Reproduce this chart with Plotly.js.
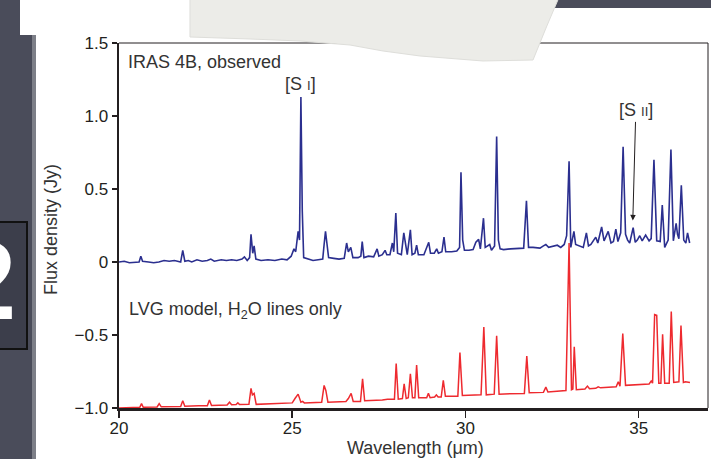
<!DOCTYPE html>
<html>
<head>
<meta charset="utf-8">
<script src="https://cdn.plot.ly/plotly-3.0.1.min.js"></script>
<style>html,body{margin:0;padding:0;background:#4a4c5a;} #chart{width:711px;height:459px;}</style>
</head>
<body>
<div id="chart"></div>
<script>
// ---- Data ----
const obsWavelength = [20.00,20.15,20.30,20.45,20.58,20.63,20.68,20.85,21.00,21.15,21.30,21.45,21.60,21.78,21.84,21.90,22.00,22.10,22.25,22.40,22.55,22.65,22.75,22.95,23.10,23.25,23.40,23.55,23.62,23.70,23.77,23.81,23.86,23.90,23.95,24.10,24.30,24.50,24.70,24.85,24.97,25.05,25.10,25.17,25.21,25.25,25.29,25.33,25.45,25.60,25.75,25.88,25.92,25.96,26.00,26.05,26.20,26.35,26.50,26.57,26.62,26.69,26.75,26.90,26.98,27.02,27.07,27.20,27.35,27.45,27.50,27.60,27.68,27.73,27.82,27.89,27.93,27.99,28.04,28.15,28.22,28.26,28.32,28.41,28.46,28.54,28.59,28.64,28.80,28.94,28.99,29.10,29.17,29.22,29.32,29.38,29.43,29.60,29.75,29.83,29.87,29.92,29.97,30.10,30.22,30.30,30.38,30.43,30.52,30.57,30.70,30.75,30.84,30.90,30.95,31.00,31.10,31.30,31.50,31.68,31.76,31.82,31.95,32.15,32.25,32.32,32.40,32.55,32.65,32.75,32.85,32.92,32.99,33.04,33.13,33.18,33.30,33.40,33.49,33.55,33.62,33.76,33.82,33.93,34.00,34.12,34.20,34.27,34.34,34.40,34.48,34.55,34.62,34.68,34.74,34.84,34.90,34.96,35.03,35.10,35.20,35.30,35.36,35.44,35.52,35.62,35.68,35.75,35.85,35.93,36.00,36.08,36.12,36.16,36.23,36.30,36.36,36.41,36.47];
const obsFlux = [0.00,0.005,-0.005,0.00,0.00,0.04,0.005,0.00,-0.005,0.00,0.01,0.005,0.01,0.00,0.08,0.005,0.01,0.00,0.015,0.005,0.01,0.02,0.005,0.015,0.01,0.015,0.01,0.02,0.035,0.01,0.03,0.19,0.06,0.11,0.02,0.01,0.015,0.01,0.02,0.015,0.04,0.09,0.07,0.21,0.15,1.13,0.35,0.03,0.02,0.01,0.015,0.02,0.12,0.21,0.13,0.03,0.025,0.02,0.025,0.13,0.07,0.10,0.03,0.03,0.04,0.14,0.03,0.04,0.035,0.09,0.04,0.05,0.08,0.05,0.05,0.13,0.07,0.335,0.06,0.05,0.20,0.14,0.05,0.22,0.05,0.06,0.115,0.05,0.05,0.135,0.06,0.06,0.09,0.06,0.07,0.17,0.07,0.07,0.075,0.10,0.615,0.15,0.08,0.08,0.085,0.135,0.155,0.09,0.30,0.10,0.12,0.08,0.11,0.86,0.15,0.09,0.085,0.09,0.09,0.095,0.42,0.10,0.10,0.095,0.11,0.12,0.10,0.11,0.115,0.10,0.12,0.18,0.69,0.10,0.21,0.12,0.11,0.10,0.20,0.11,0.12,0.17,0.13,0.24,0.145,0.21,0.13,0.14,0.225,0.14,0.20,0.79,0.19,0.15,0.13,0.235,0.135,0.15,0.18,0.145,0.185,0.145,0.16,0.70,0.145,0.14,0.39,0.10,0.15,0.77,0.145,0.265,0.19,0.16,0.525,0.15,0.13,0.20,0.13];

const modelWavelength = [20.00,20.30,20.60,20.65,20.70,21.10,21.16,21.22,21.78,21.84,21.90,22.30,22.55,22.61,22.67,23.12,23.19,23.25,23.38,23.43,23.48,23.75,23.81,23.85,23.90,23.96,24.50,25.00,25.08,25.17,25.25,25.30,25.35,25.85,25.92,25.97,26.03,26.55,26.62,26.70,26.76,26.97,27.03,27.09,27.60,27.75,27.95,28.00,28.06,28.18,28.23,28.29,28.35,28.41,28.47,28.54,28.59,28.65,28.88,28.93,28.98,29.11,29.16,29.21,29.30,29.36,29.42,29.78,29.84,29.91,30.45,30.53,30.60,30.83,30.90,30.97,31.70,31.77,31.84,32.25,32.32,32.38,32.90,32.99,33.06,33.10,33.14,33.20,33.45,33.52,33.58,33.76,33.83,33.90,34.35,34.41,34.46,34.54,34.62,35.30,35.36,35.40,35.46,35.52,35.58,35.64,35.69,35.75,35.88,35.94,36.01,36.10,36.16,36.22,36.29,36.35,36.42,36.48];
const modelFlux = [-1.00,-0.998,-0.995,-0.97,-0.995,-0.993,-0.97,-0.992,-0.99,-0.95,-0.988,-0.985,-0.985,-0.945,-0.983,-0.98,-0.96,-0.978,-0.976,-0.965,-0.976,-0.975,-0.865,-0.91,-0.90,-0.975,-0.97,-0.965,-0.935,-0.905,-0.96,-0.955,-0.965,-0.96,-0.845,-0.88,-0.96,-0.955,-0.935,-0.90,-0.955,-0.955,-0.80,-0.95,-0.945,-0.94,-0.94,-0.695,-0.94,-0.935,-0.835,-0.935,-0.93,-0.765,-0.93,-0.93,-0.705,-0.93,-0.93,-0.90,-0.93,-0.925,-0.91,-0.925,-0.925,-0.81,-0.92,-0.92,-0.62,-0.915,-0.91,-0.445,-0.91,-0.905,-0.505,-0.905,-0.90,-0.645,-0.895,-0.893,-0.857,-0.89,-0.88,0.13,-0.875,-0.87,-0.58,-0.875,-0.87,-0.85,-0.868,-0.865,-0.855,-0.862,-0.855,-0.82,-0.85,-0.49,-0.845,-0.835,-0.815,-0.83,-0.36,-0.365,-0.83,-0.83,-0.495,-0.83,-0.83,-0.34,-0.825,-0.82,-0.82,-0.435,-0.825,-0.82,-0.825,-0.826];

const xTickVals = [20, 25, 30, 35];
const xTickText = ['20', '25', '30', '35'];
const yTickVals = [-1.0, -0.5, 0, 0.5, 1.0, 1.5];
const yTickText = ['\u22121.0', '\u22120.5', '0', '0.5', '1.0', '1.5'];

// ---- Layout geometry helpers (pixel -> paper fraction) ----
const W = 711, H = 459, ML = 119, MR = 3, MT = 43, MB = 51;
const PW = W - ML - MR, PH = H - MT - MB;
const fx = px => (px - ML) / PW;
const fy = py => (H - MB - py) / PH;
function pathFromPixels(pts) {
  return 'M ' + pts.map(p => fx(p[0]).toFixed(4) + ' ' + fy(p[1]).toFixed(4)).join(' L ') + ' Z';
}

const FONT = 'Liberation Sans, Arial, Helvetica, sans-serif';
const INK = '#231f20';
const LABEL = '#333333';
const FS = 18;
const TFS = 17;

const traces = [
  { x: modelWavelength, y: modelFlux, type: 'scatter', mode: 'lines',
    line: { color: '#ee2a2f', width: 1.5 }, hoverinfo: 'skip' },
  { x: obsWavelength, y: obsFlux, type: 'scatter', mode: 'lines',
    line: { color: '#2b2f8f', width: 1.6 }, hoverinfo: 'skip' }
];

const shapes = [
  { type: 'rect', xref: 'paper', yref: 'paper', layer: 'below',
    x0: fx(35), x1: fx(W + 5), y0: fy(8), y1: fy(H + 5), fillcolor: '#ffffff', line: { width: 0 } },
  { type: 'rect', xref: 'paper', yref: 'paper', layer: 'below',
    x0: fx(32), x1: fx(36), y0: fy(8), y1: fy(H + 5), fillcolor: '#7d7f88', line: { width: 0 } },
  { type: 'rect', xref: 'paper', yref: 'paper', layer: 'below',
    x0: fx(20), x1: fx(205), y0: fy(-5), y1: fy(35), fillcolor: '#ffffff', line: { width: 0 } },
  { type: 'rect', xref: 'paper', yref: 'paper', layer: 'below',
    x0: fx(-3), x1: fx(27), y0: fy(222), y1: fy(349), fillcolor: '#3c3e4b', line: { color: '#111111', width: 2 } },
  { type: 'line', xref: 'paper', yref: 'paper', layer: 'above',
    x0: 0, x1: 1, y0: 1, y1: 1, line: { color: INK, width: 1 } },
  { type: 'line', xref: 'paper', yref: 'paper', layer: 'above',
    x0: 1, x1: 1, y0: 0, y1: 1, line: { color: INK, width: 1 } },
  { type: 'path', xref: 'paper', yref: 'paper', layer: 'above',
    path: pathFromPixels([[190,-5],[560,-5],[546,28],[533,60],[483,61],[420,56],[383,51],[350,45],[300,41],[250,39],[190,37]]),
    fillcolor: '#ececE8', line: { color: '#dededa', width: 1 } }
];

const annotations = [
  { xref: 'paper', yref: 'paper', x: fx(18), y: fy(280), xanchor: 'right', yanchor: 'middle',
    text: '<b>2</b>', showarrow: false, font: { family: FONT, size: 112, color: '#ffffff' } },
  { xref: 'x', yref: 'y', x: 20.2, y: 1.37, xanchor: 'left', yanchor: 'middle',
    text: 'IRAS 4B, observed', showarrow: false, font: { family: FONT, size: FS, color: LABEL } },
  { xref: 'x', yref: 'y', x: 25.25, y: 1.22, xanchor: 'center', yanchor: 'middle',
    text: '[S <span style="font-size:13px">I</span>]', showarrow: false, font: { family: FONT, size: FS, color: LABEL } },
  { xref: 'x', yref: 'y', x: 34.83, y: 0.285, ax: 3, ay: -110,
    text: '[S <span style="font-size:13px">II</span>]', showarrow: true, arrowhead: 2, arrowsize: 1.1, arrowwidth: 1,
    arrowcolor: INK, standoff: 0, font: { family: FONT, size: FS, color: LABEL } },
  { xref: 'x', yref: 'y', x: 20.22, y: -0.33, xanchor: 'left', yanchor: 'middle',
    text: 'LVG model, H<sub>2</sub>O lines only', showarrow: false, font: { family: FONT, size: FS, color: LABEL } },
  { xref: 'paper', yref: 'paper', x: fx(415), y: fy(460), xanchor: 'center', yanchor: 'bottom',
    text: 'Wavelength (\u03bcm)', showarrow: false, font: { family: FONT, size: FS, color: LABEL } },
  { xref: 'paper', yref: 'paper', x: fx(51), y: fy(230), xanchor: 'center', yanchor: 'middle', textangle: -90,
    text: 'Flux density (Jy)', showarrow: false, font: { family: FONT, size: FS, color: LABEL } }
];

const layout = {
  width: W, height: H,
  margin: { l: ML, r: MR, t: MT, b: MB, pad: 0 },
  paper_bgcolor: '#4a4c5a',
  plot_bgcolor: '#ffffff',
  showlegend: false,
  font: { family: FONT, size: FS, color: INK },
  xaxis: {
    range: [20, 37], tickmode: 'array', tickvals: xTickVals, ticktext: xTickText,
    ticks: 'outside', ticklen: 7, tickwidth: 1.5, tickcolor: INK, ticklabelstandoff: -4,
    showline: true, linewidth: 2.5, linecolor: INK, showgrid: false, zeroline: false,
    tickfont: { family: FONT, size: TFS, color: INK }, fixedrange: true
  },
  yaxis: {
    range: [-1.0, 1.5], tickmode: 'array', tickvals: yTickVals, ticktext: yTickText,
    ticks: 'outside', ticklen: 5, tickwidth: 1.5, tickcolor: INK,
    showline: true, linewidth: 2.5, linecolor: INK, showgrid: false, zeroline: false,
    tickfont: { family: FONT, size: TFS, color: INK }, fixedrange: true
  },
  shapes: shapes,
  annotations: annotations
};

Plotly.newPlot('chart', traces, layout, { staticPlot: true, displayModeBar: false });
</script>
</body>
</html>
